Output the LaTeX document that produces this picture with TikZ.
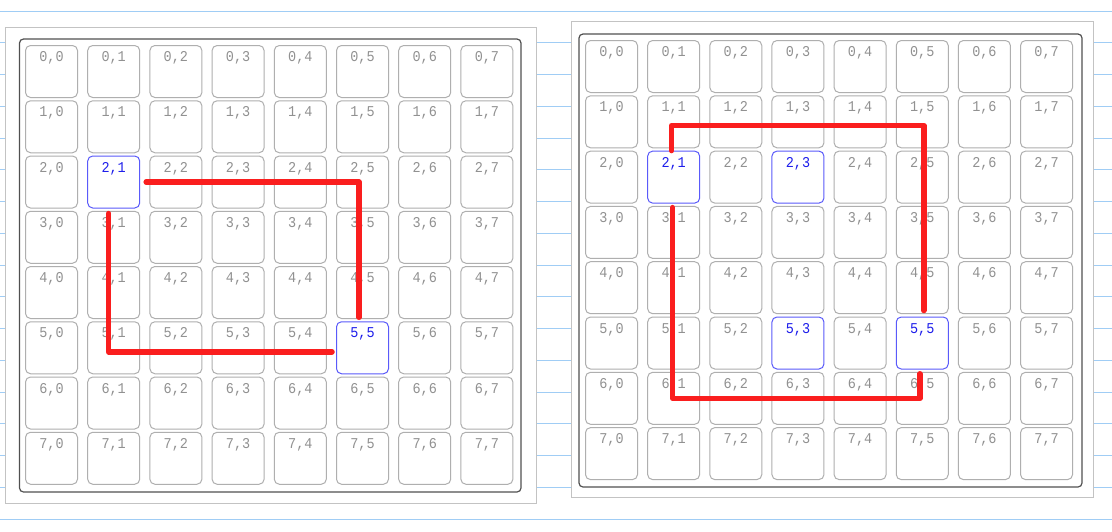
\documentclass[tikz,border=0pt]{standalone}
\usepackage{fontspec}
\newfontfamily\cellfont[FakeStretch=0.9]{Liberation Mono}
\definecolor{ruleblue}{RGB}{160,205,245}
\definecolor{framegray}{RGB}{195,195,195}
\definecolor{boardline}{RGB}{80,80,80}
\definecolor{cellgray}{RGB}{175,175,175}
\definecolor{numgray}{RGB}{145,145,145}
\definecolor{pickline}{RGB}{90,90,250}
\definecolor{picktext}{RGB}{30,30,235}
\definecolor{routered}{RGB}{250,30,30}

\begin{document}
\begin{tikzpicture}[
  x=1pt, y=-1pt,
  cell/.style={draw=cellgray, line width=1pt, rounded corners=5pt, fill=white,
               minimum width=52pt, minimum height=52pt, inner xsep=0pt, inner ysep=3pt,
               text height=13pt, text depth=33pt, text=numgray,
               font=\cellfont\fontsize{15}{15}\selectfont},
  picked/.style={draw=pickline, text=picktext},
  pickL-2-1/.style=picked, pickL-5-5/.style=picked,
  pickR-2-1/.style=picked, pickR-2-3/.style=picked,
  pickR-5-3/.style=picked, pickR-5-5/.style=picked,
  redline/.style={draw=routered, line width=5.5pt, line cap=round, line join=round}
]
  \useasboundingbox (0,0) rectangle (1112,531);

  % ruled paper behind the boards
  \foreach \k in {0,...,16}
    \draw[ruleblue, line width=0.8pt] (0,{11+31.75*\k}) -- (1112,{11+31.75*\k});

  % left board
  \draw[framegray, line width=1pt, fill=white] (5,27) rectangle (536,503);
  \draw[boardline, line width=1.2pt, rounded corners=4pt] (19.5,39) rectangle (521,492);
  \foreach \r in {0,...,7}
    \foreach \c in {0,...,7}
      \node[cell, anchor=north west, pickL-\r-\c/.try] (L-\r-\c)
        at ({25+62.2*\c}, {45+55.25*\r}) {\r,\c};

  % right board
  \draw[framegray, line width=1pt, fill=white] (571,21) rectangle (1093,497);
  \draw[boardline, line width=1.2pt, rounded corners=4pt] (579,34) rectangle (1082,487);
  \foreach \r in {0,...,7}
    \foreach \c in {0,...,7}
      \node[cell, anchor=north west, pickR-\r-\c/.try] (R-\r-\c)
        at ({585+62.15*\c}, {40+55.3*\r}) {\r,\c};

  % routes
  \draw[redline] ([xshift=6pt]L-2-1.east) -| ([xshift=-3.5pt,yshift=4pt]L-5-5.north);
  \draw[redline] ([xshift=-5pt,yshift=-5pt]L-2-1.south) |- ([xshift=-4pt,yshift=-4pt]L-5-5.west);
  \draw[redline] ([xshift=-2pt]R-2-1.north) -- ([xshift=-2pt,yshift=25pt]R-2-1.north)
    -| ([xshift=1.5pt,yshift=6pt]R-5-5.north);
  \draw[redline] ([xshift=-1pt,yshift=-4pt]R-2-1.south) |- ([xshift=-2.5pt]R-6-5.center)
    -- ([xshift=-2.5pt,yshift=-2pt]R-6-5.north);
\end{tikzpicture}
\end{document}
